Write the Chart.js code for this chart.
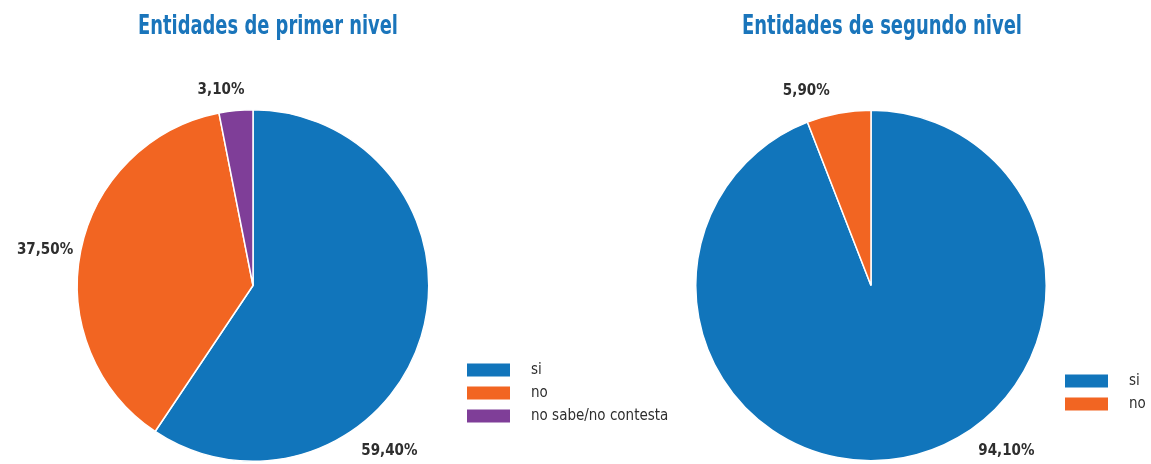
<!DOCTYPE html>
<html>
<head>
<meta charset="utf-8">
<script src="https://cdn.jsdelivr.net/npm/chart.js@4.4.1/dist/chart.umd.min.js"></script>
<style>
  html, body { margin: 0; padding: 0; background: #ffffff; }
  #wrap { position: relative; width: 1151px; height: 464px; overflow: hidden; }
  #wrap canvas { position: absolute; left: 0; top: 0; }
</style>
</head>
<body>
<div id="wrap">
  <canvas id="chartA" width="1151" height="464"></canvas>
  <canvas id="chartB" width="1151" height="464"></canvas>
</div>
<script>
// Survey answers, in percent
const primerCategories = ['si', 'no', 'no sabe/no contesta'];
const primerValues = [59.4, 37.5, 3.1];
const segundoCategories = ['si', 'no'];
const segundoValues = [94.1, 5.9];

const primerTitle = 'Entidades de primer nivel';
const segundoTitle = 'Entidades de segundo nivel';

const COLORS = ['#1175bb', '#f26522', '#7f3e98'];
const TITLE_COLOR = '#1a75bb';
const TEXT_COLOR = '#2e2e2e';

const fmtPct = v => v.toFixed(2).replace('.', ',') + '%';

// Title, value labels and legend drawn around the pie
const decorPlugin = {
  id: 'decor',
  afterDraw(chart, args, opts) {
    const ctx = chart.ctx;
    const meta = chart.getDatasetMeta(0);
    const ds = chart.data.datasets[0];
    const arc0 = meta.data[0];
    const cx = arc0.x, cy = arc0.y, r = arc0.outerRadius;

    // title
    ctx.save();
    ctx.fillStyle = TITLE_COLOR;
    ctx.font = 'bold 27px "Liberation Sans Narrow", "DejaVu Sans Condensed", sans-serif';
    ctx.textBaseline = 'alphabetic';
    const tw = ctx.measureText(opts.title).width;
    const sx = opts.titleWidth / tw;
    ctx.translate(opts.titleX, opts.titleY);
    ctx.scale(sx, 1);
    ctx.textAlign = 'center';
    ctx.fillText(opts.title, 0, 0);
    ctx.restore();

    // value labels outside the slices
    ctx.save();
    ctx.fillStyle = TEXT_COLOR;
    ctx.font = 'bold 15px "Liberation Sans Narrow", "DejaVu Sans Condensed", sans-serif';
    ctx.textAlign = 'center';
    ctx.textBaseline = 'middle';
    ds.data.forEach((v, i) => {
      const p = opts.labelPos[i];
      const a = p[0] * Math.PI / 180;
      const x = cx + Math.cos(a) * r * p[1];
      const y = cy + Math.sin(a) * r * p[1];
      ctx.fillText(fmtPct(v), x, y);
    });
    ctx.restore();

    // legend
    ctx.save();
    ctx.font = '15px "DejaVu Sans Condensed", "Liberation Sans Narrow", sans-serif';
    ctx.textBaseline = 'middle';
    ctx.textAlign = 'left';
    chart.data.labels.forEach((lab, i) => {
      const y = opts.legendY + i * opts.legendGap;
      ctx.fillStyle = ds.backgroundColor[i];
      ctx.fillRect(opts.legendX, y - 6.5, 43, 13);
      ctx.fillStyle = TEXT_COLOR;
      ctx.fillText(lab, opts.legendX + 64, y);
    });
    ctx.restore();
  }
};

function makePie(id, labels, values, padding, decor) {
  return new Chart(document.getElementById(id), {
    type: 'pie',
    data: {
      labels: labels,
      datasets: [{
        data: values,
        backgroundColor: COLORS.slice(0, values.length),
        borderColor: '#ffffff',
        borderWidth: 1.5
      }]
    },
    options: {
      responsive: false,
      animation: false,
      layout: { padding: padding },
      plugins: {
        legend: { display: false },
        title: { display: false },
        tooltip: { enabled: false },
        decor: decor
      }
    },
    plugins: [decorPlugin]
  });
}

makePie('chartA', primerCategories, primerValues,
  { left: 76, right: 721, top: 109, bottom: 2 },
  {
    title: primerTitle, titleX: 268, titleY: 34, titleWidth: 260,
    labelPos: [[50.5, 1.22], [-170.4, 1.20], [-99.3, 1.126]],
    legendX: 467, legendY: 370, legendGap: 23
  });

makePie('chartB', segundoCategories, segundoValues,
  { left: 695, right: 104, top: 109, bottom: 2 },
  {
    title: segundoTitle, titleX: 882, titleY: 34, titleWidth: 280,
    labelPos: [[50.7, 1.22], [-108.4, 1.17]],
    legendX: 1065, legendY: 381, legendGap: 23
  });
</script>
</body>
</html>
